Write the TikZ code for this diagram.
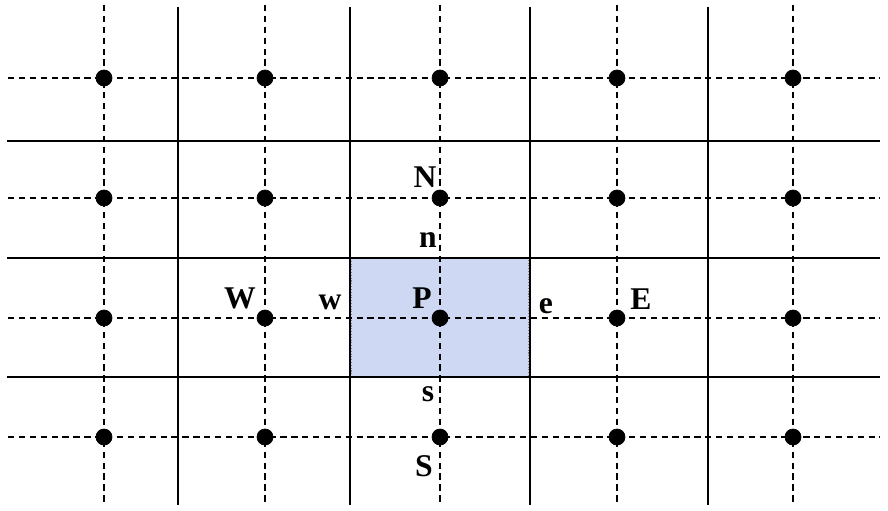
\documentclass[tikz,border=0pt]{standalone}
\usepackage{fontspec}
\setmainfont{Liberation Serif}
\begin{document}
\begin{tikzpicture}[x=0.02cm, y=-0.02cm,
	gridline/.style={line width=1.1pt},
	halfline/.style={line width=0.9pt, dash pattern=on 3.6pt off 2.6pt},
	lbl/.style={font=\fontsize{18}{18}\selectfont\bfseries, inner sep=0pt}]
	\useasboundingbox (0,0) rectangle (888,510);
	
	% control volume P
	\fill[fill={rgb,255:red,206;green,216;blue,243}] (351,258) rectangle (529,377);
	\draw[gray, line width=0.6pt, densely dotted] (351,258) rectangle (529,377);
	
	% cell faces
	\foreach \x in {178,350,530,708}
		\draw[gridline] (\x,7) -- (\x,505);
	\foreach \y in {141,258,377}
		\draw[gridline] (7,\y) -- (880,\y);
	
	% lines through the nodes
	\foreach \x in {104,265,440,617,793}
		\draw[halfline] (\x,5) -- (\x,505);
	\foreach \y in {78,198,318,437}
		\draw[halfline] (8,\y) -- (880,\y);
	
	% grid points
	\foreach \x in {104,265,440,617,793}
		\foreach \y in {78,198,318,437}
			\filldraw[black] (\x,\y) circle (8);
	
	% names of the points and faces
	\node[lbl] (N) at (425,177) {N};
	\node[lbl] (n) at (428,240) {n};
	\node[lbl] (W) at (240,298) {W};
	\node[lbl] (w) at (330,302) {w};
	\node[lbl] (P) at (422,298) {P};
	\node[lbl] (e) at (546,306) {e};
	\node[lbl] (E) at (641,299) {E};
	\node[lbl] (s) at (428,394) {s};
	\node[lbl] (S) at (424,466) {S};
	
\end{tikzpicture}
\end{document}
